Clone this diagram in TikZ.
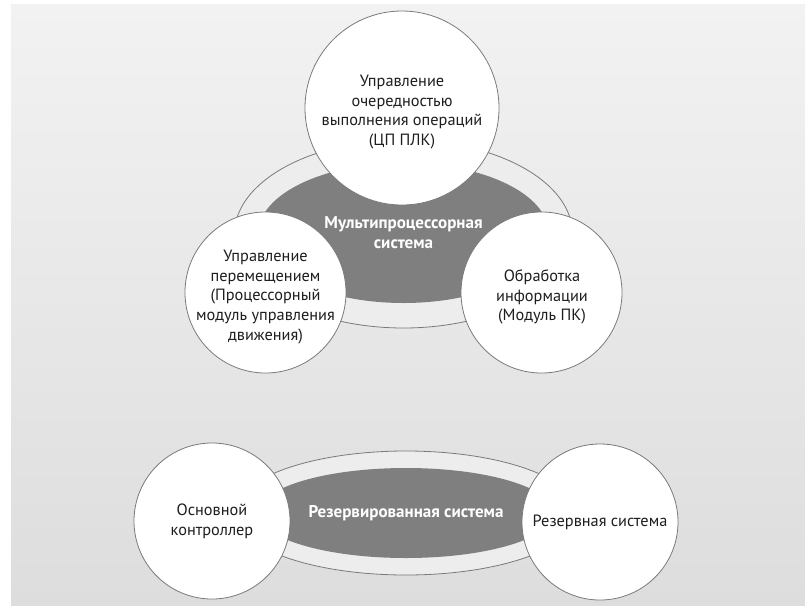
\documentclass[tikz,border=0pt]{standalone}
\usepackage{fontspec}
\setmainfont{PT Sans}
\usetikzlibrary{shapes.geometric}
\definecolor{bgtop}{HTML}{F2F2F2}
\definecolor{bgbot}{HTML}{DDDDDD}
\definecolor{ringfill}{HTML}{EDEDED}
\definecolor{corefill}{HTML}{7F7F7F}
\definecolor{edge}{HTML}{7A7A7A}
\definecolor{txt}{HTML}{1E1E1E}
\begin{document}
\begin{tikzpicture}[x=1pt,y=-1pt,
  outerring/.style={ellipse, draw=edge, line width=0.8pt, fill=ringfill, inner sep=0pt},
  core/.style={ellipse, fill=corefill, inner sep=0pt, text=white, align=center,
    font=\fontsize{17}{20}\selectfont\bfseries},
  bubble/.style={circle, draw=edge, line width=0.8pt, fill=white, inner sep=0pt, align=center,
    text=txt, font=\fontsize{16.3}{19.7}\selectfont},
  bubbletext/.style={text=txt, align=center, inner sep=0pt, font=\fontsize{16.3}{19.7}\selectfont}]
\useasboundingbox (0,0) rectangle (805,605);
\fill[white] (0,0) rectangle (805,605);
\shade[top color=bgtop, bottom color=bgbot] (11,4) rectangle (805,605);
% top group
\node[outerring, minimum width=338, minimum height=188] (ring1) at (403.5,234) {};
\node[core, minimum width=290, minimum height=140] (core1) at (403.5,233) {Мультипроцессорная\\система};
\node[bubble, minimum size=194] (top) at (402,108) {};
\node[bubbletext] (toptext) at (402,112) {Управление\\очередностью\\выполнения операций\\(ЦП ПЛК)};
\node[bubble, minimum size=161] (left) at (265.5,292.5) {};
\node[bubbletext] (lefttext) at (265.5,297) {Управление\\перемещением\\(Процессорный\\модуль управления\\движения)};
\node[bubble, minimum size=161] (right) at (541.5,292.5) {};
\node[bubbletext] (righttext) at (542,297) {Обработка\\информации\\(Модуль ПК)};
% bottom group
\node[outerring, minimum width=344, minimum height=124] (ring2) at (406,513) {};
\node[core, minimum width=296, minimum height=90] (core2) at (406,513) {Резервированная система};
\node[bubble, minimum size=156] (main) at (212,521) {Основной\\контроллер};
\node[bubble, minimum size=156] (reserve) at (600,522) {Резервная система};
\end{tikzpicture}
\end{document}
